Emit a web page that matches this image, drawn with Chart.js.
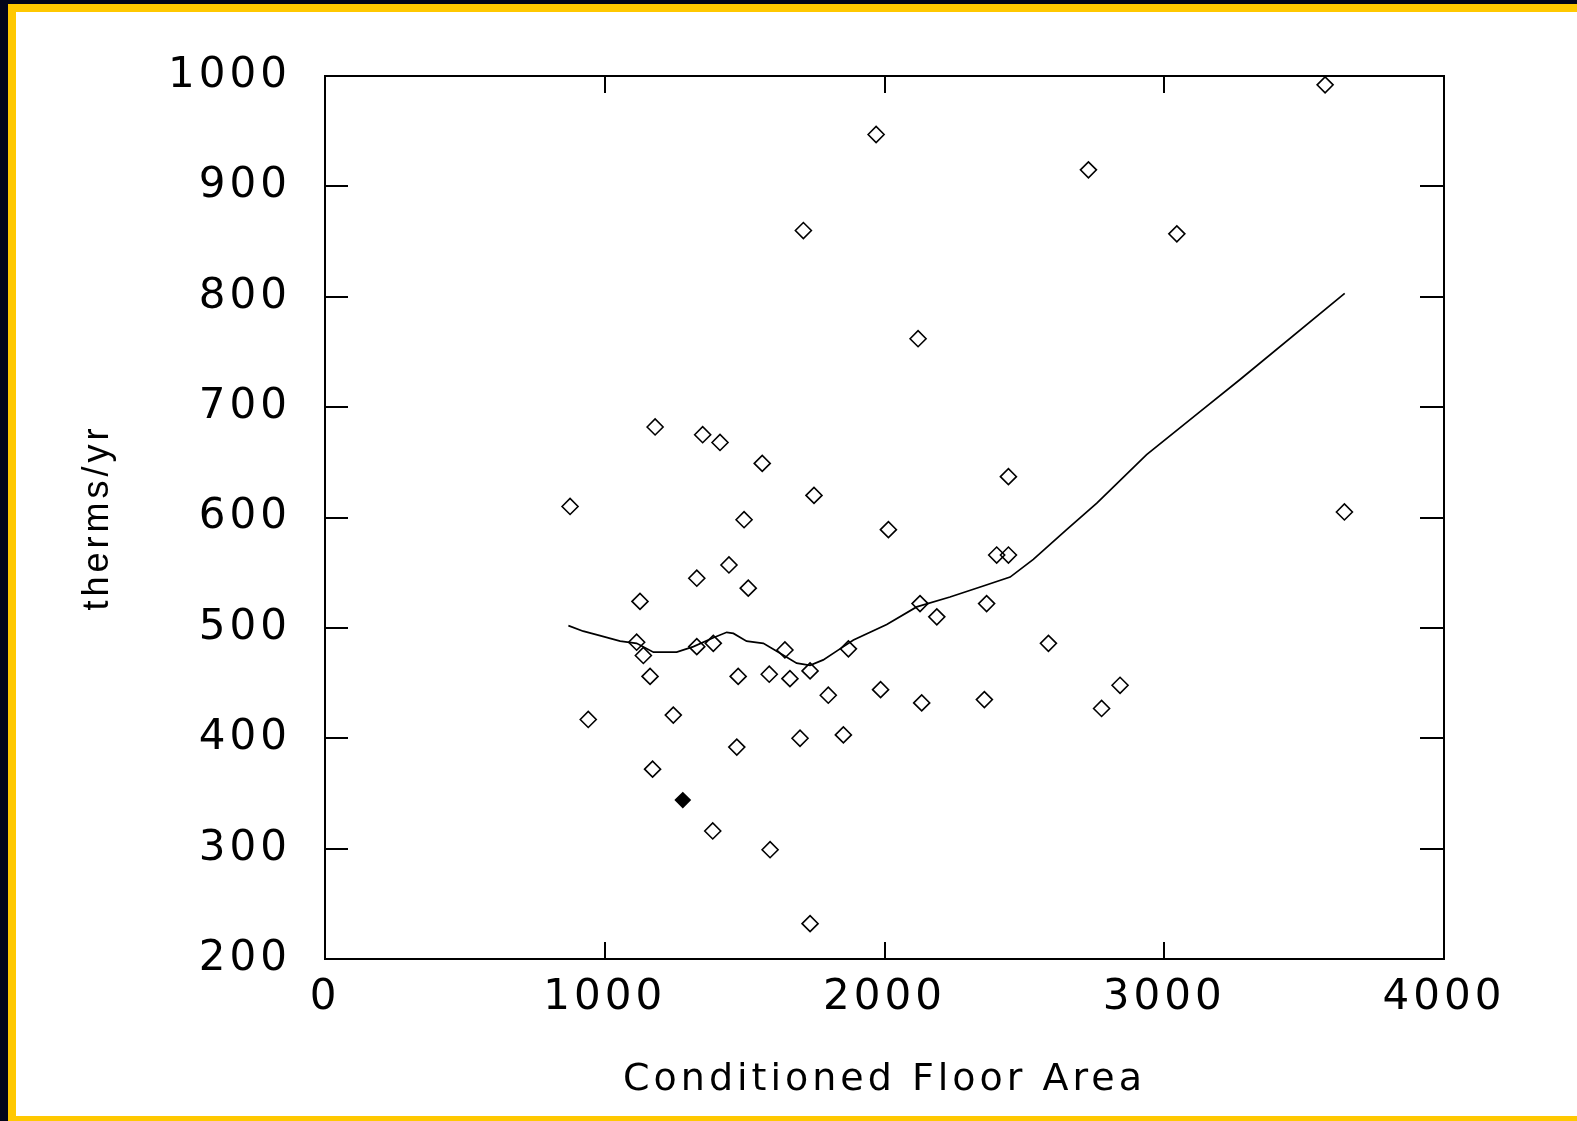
<!DOCTYPE html>
<html>
<head>
<meta charset="utf-8">
<script src="https://cdn.jsdelivr.net/npm/chart.js@4.4.1/dist/chart.umd.min.js"></script>
<style>
  html, body { margin: 0; padding: 0; overflow: hidden; background: #02051a; }
  #frame {
    position: absolute; left: 8px; top: 4px; width: 1600px; height: 1117px;
    box-sizing: border-box; background: #fff;
    border-left: 8px solid #ffc800; border-top: 8px solid #ffc800; border-bottom: 5px solid #ffc800;
  }
  #chart { position: absolute; left: 0; top: 0; }
</style>
</head>
<body>
<div id="frame"></div>
<canvas id="chart" width="1577" height="1121"></canvas>
<script>
// conditioned floor area (sq ft) vs annual gas use (therms/yr)
const areaX = [876, 941, 1114, 1126, 1138, 1162, 1171, 1180, 1245, 1329, 1329, 1350, 1386, 1388,
  1412, 1444, 1472, 1477, 1498, 1513, 1563, 1588, 1591, 1644, 1662, 1698, 1710, 1734, 1734,
  1748, 1799, 1853, 1871, 1970, 1986, 2014, 2120, 2127, 2133, 2187, 2357, 2365, 2401, 2443,
  2443, 2586, 2729, 2776, 2842, 3045, 3575, 3644];
const thermsY = [610, 417, 487, 524, 475, 456, 372, 682, 421, 545, 483, 675, 316, 486,
  668, 557, 392, 456, 598, 536, 649, 458, 299, 480, 454, 400, 860, 461, 232,
  620, 439, 403, 481, 947, 444, 589, 762, 522, 432, 510, 435, 522, 566, 566,
  637, 486, 915, 427, 448, 857, 992, 605];

// the one highlighted house
const markedX = [1279];
const markedY = [344];

// smoothed trend through the scatter
const fitX = [870, 923, 983, 1055, 1114, 1174, 1257, 1317, 1388, 1436, 1460, 1507, 1567, 1627,
  1686, 1734, 1781, 1841, 1889, 2008, 2115, 2234, 2353, 2449, 2532, 2651, 2759, 2937, 3128,
  3271, 3645];
const fitY = [502, 497, 493, 488, 486, 478, 478, 483, 491, 496, 495, 488, 486, 477,
  468, 466, 471, 481, 489, 503, 519, 528, 538, 546, 562, 589, 613, 657, 696,
  725, 803];

const xTicks = [0, 1000, 2000, 3000, 4000];
const yTicks = [200, 300, 400, 500, 600, 700, 800, 900, 1000];

const pts = (xs, ys) => xs.map((x, i) => ({ x, y: ys[i] }));

const FONT = 'DejaVu Sans';

// box around the plot with inward ticks on all four sides
const frameTicks = {
  id: 'frameTicks',
  beforeDraw(chart) {
    chart.ctx.letterSpacing = '4px';
  },
  beforeDatasetsDraw(chart) {
    const { ctx, chartArea: a, scales } = chart;
    ctx.save();
    ctx.strokeStyle = '#000';
    ctx.lineWidth = 2;
    ctx.strokeRect(a.left, a.top, a.right - a.left, a.bottom - a.top);
    ctx.beginPath();
    xTicks.forEach((v) => {
      const px = Math.round(scales.x.getPixelForValue(v));
      ctx.moveTo(px, a.bottom); ctx.lineTo(px, a.bottom - 17);
      ctx.moveTo(px, a.top); ctx.lineTo(px, a.top + 17);
    });
    yTicks.forEach((v) => {
      const py = Math.round(scales.y.getPixelForValue(v));
      ctx.moveTo(a.left, py); ctx.lineTo(a.left + 23, py);
      ctx.moveTo(a.right, py); ctx.lineTo(a.right - 24, py);
    });
    ctx.stroke();
    ctx.restore();
  }
};

new Chart(document.getElementById('chart'), {
  type: 'scatter',
  data: {
    datasets: [
      {
        data: pts(fitX, fitY),
        showLine: true,
        borderColor: '#000',
        borderWidth: 1.7,
        pointRadius: 0,
        tension: 0,
      },
      {
        data: pts(areaX, thermsY),
        pointStyle: 'rectRot',
        pointRadius: 8,
        borderColor: '#000',
        borderWidth: 1.6,
        backgroundColor: 'rgba(0,0,0,0)',
      },
      {
        data: pts(markedX, markedY),
        pointStyle: 'rectRot',
        pointRadius: 7,
        borderColor: '#000',
        borderWidth: 2,
        backgroundColor: '#000',
      },
    ],
  },
  options: {
    responsive: false,
    animation: false,
    layout: { padding: { top: 76, right: 133, left: 0, bottom: 0 } },
    plugins: { legend: { display: false }, tooltip: { enabled: false } },
    scales: {
      x: {
        type: 'linear',
        min: 0,
        max: 4000,
        afterFit: (s) => { s.height = 162; },
        afterBuildTicks: (s) => { s.ticks = xTicks.map((v) => ({ value: v })); },
        grid: { display: false, drawTicks: false },
        border: { display: false },
        ticks: {
          color: '#000', padding: 14, maxRotation: 0, autoSkip: false,
          font: { family: FONT, size: 42 },
          callback: (v) => String(v),
        },
        title: {
          display: true,
          text: 'Conditioned Floor Area',
          color: '#000',
          font: { family: FONT, size: 38 },
          padding: { top: 0, bottom: 18 },
        },
      },
      y: {
        type: 'linear',
        min: 200,
        max: 1000,
        afterFit: (s) => { s.width = 325; },
        afterBuildTicks: (s) => { s.ticks = yTicks.map((v) => ({ value: v })); },
        grid: { display: false, drawTicks: false },
        border: { display: false },
        ticks: {
          color: '#000', padding: 34, autoSkip: false,
          font: { family: FONT, size: 42 },
          callback: (v) => String(v),
        },
        title: {
          display: true,
          text: 'therms/yr',
          color: '#000',
          font: { family: 'Liberation Sans', size: 36 },
          padding: { top: 76, bottom: 0 },
        },
      },
    },
  },
  plugins: [frameTicks],
});
</script>
</body>
</html>
